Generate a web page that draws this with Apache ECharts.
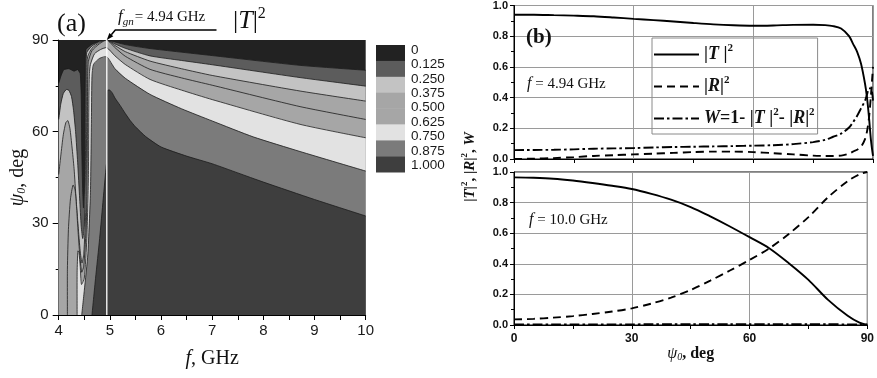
<!DOCTYPE html>
<html>
<head>
<meta charset="utf-8">
<script src="https://cdn.jsdelivr.net/npm/echarts@6.0.0/dist/echarts.min.js"></script>
<style>
html,body{margin:0;padding:0;background:#ffffff;}
#chart{width:877px;height:378px;}
</style>
</head>
<body>
<div id="chart"></div>
<script>
// ================= Panel (a): |T|^2 contour map =================
const fgn = 4.94;
const fRange = [4, 10];
const psiRange = [0, 90];
const levelLabels = ['0', '0.125', '0.250', '0.375', '0.500', '0.625', '0.750', '0.875', '1.000'];
const bandColors = ['#222222', '#5c5c5c', '#c3c3c3', '#a6a6a6', '#a6a6a6', '#e2e2e2', '#7b7b7b', '#3e3e3e'];

// superlevel regions [f (GHz), psi0 (deg)]: |T|^2 > level
const regionAll = [[4, 0], [4, 90], [10, 90], [10, 0]];
const region125 = [[4, 0], [4, 75.8], [4.05, 78.5], [4.1, 80.3], [4.2, 80.6], [4.3, 79.8], [4.37, 80.3], [4.42, 79], [4.44, 72], [4.45, 55], [4.47, 40], [4.485, 35], [4.5, 40], [4.51, 55], [4.515, 75], [4.52, 84], [4.535, 87], [4.65, 88.6], [4.8, 89.6], [4.94, 90], [5.3, 88.5], [5.785, 87.2], [7, 84.9], [8.717, 81.7], [10, 80.1], [10, 0]];
const region250 = [[4, 0], [4, 64], [4.04, 69], [4.09, 72.5], [4.15, 73.8], [4.2, 73.5], [4.25, 71.5], [4.29, 67], [4.33, 60], [4.37, 50], [4.41, 38], [4.44, 29], [4.47, 25], [4.5, 29], [4.52, 45], [4.53, 70], [4.535, 82], [4.55, 86], [4.65, 88], [4.8, 89.5], [4.94, 90], [5.1, 88.7], [5.3, 87.3], [5.785, 84.8], [6.4, 83.3], [7, 81.9], [8.717, 77.7], [10, 74.9], [10, 0]];
const region375 = [[4, 0], [4, 46], [4.04, 52], [4.09, 59], [4.14, 63], [4.18, 63.6], [4.22, 61], [4.26, 55], [4.3, 48], [4.34, 38], [4.38, 29], [4.42, 21], [4.455, 17], [4.49, 20], [4.53, 35], [4.545, 60], [4.55, 80], [4.565, 84.5], [4.65, 87.3], [4.8, 89.2], [4.94, 90], [5.1, 88.2], [5.3, 86.2], [5.785, 83.1], [6.4, 80.6], [7, 78.4], [8.717, 73.3], [10, 70.0], [10, 0]];
const region500 = [[4.17, 0], [4.17, 15], [4.19, 28], [4.23, 38], [4.28, 42.5], [4.32, 41], [4.35, 35], [4.38, 27], [4.41, 20], [4.45, 14], [4.49, 16], [4.54, 30], [4.56, 55], [4.565, 78], [4.58, 83], [4.65, 86.5], [4.8, 88.8], [4.94, 90], [5.1, 87.5], [5.3, 84.7], [5.785, 80.4], [6.4, 77.6], [7, 75.2], [8.717, 68.2], [10, 64.0], [10, 0]];
const region625 = [[4.36, 0], [4.36, 14], [4.375, 21], [4.395, 20.5], [4.42, 16], [4.445, 10], [4.5, 12], [4.55, 25], [4.58, 45], [4.59, 70], [4.6, 79], [4.62, 82], [4.7, 85.5], [4.82, 86.9], [4.94, 87.5], [5.1, 84.8], [5.3, 82], [5.785, 77.1], [6.4, 73.6], [7, 70.5], [8.717, 62.4], [10, 58.0], [10, 0]];
const region750 = [[4.45, 0], [4.5, 8], [4.57, 20], [4.62, 40], [4.64, 65], [4.65, 78], [4.68, 82], [4.8, 84], [4.94, 84.5], [5.1, 80.6], [5.3, 77.5], [5.785, 72.2], [6.4, 67.5], [7, 63.5], [7.8, 58.3], [8.717, 53.5], [10, 47.1], [10, 0]];
const region875 = [[4.65, 0], [4.72, 12], [4.8, 25], [4.87, 38], [4.93, 49], [4.94, 50], [4.94, 72.5], [4.96, 73.6], [5.0, 73.6], [5.05, 72.6], [5.1, 71], [5.2, 68.6], [5.3, 66], [5.4, 63.6], [5.5, 61.6], [5.7, 58.4], [6, 55], [6.5, 52], [7, 49.5], [7.5, 46.5], [8, 43.5], [9, 37.8], [10, 32.4], [10, 0]];
const contourRegions = [regionAll, region125, region250, region375, region500, region625, region750, region875];

// ================= Panel (b): angular dependences =================
const psiTop = [0, 5, 10, 15, 20, 25, 30, 35, 40, 45, 50, 55, 60, 65, 70, 75, 78, 80, 82, 84, 85, 86, 87, 88, 88.5, 89, 89.5, 90];
const T2top = [0.94, 0.94, 0.937, 0.934, 0.93, 0.922, 0.913, 0.905, 0.896, 0.886, 0.877, 0.871, 0.868, 0.870, 0.874, 0.875, 0.872, 0.866, 0.85, 0.8, 0.75, 0.7, 0.62, 0.49, 0.4, 0.27, 0.12, 0.02];
const R2top = [0.0, 0.002, 0.006, 0.012, 0.02, 0.025, 0.03, 0.035, 0.04, 0.045, 0.048, 0.048, 0.045, 0.038, 0.03, 0.022, 0.02, 0.02, 0.022, 0.035, 0.048, 0.06, 0.08, 0.13, 0.18, 0.27, 0.42, 0.6];
const Wtop = [0.058, 0.059, 0.06, 0.063, 0.067, 0.069, 0.071, 0.075, 0.078, 0.08, 0.082, 0.084, 0.087, 0.09, 0.097, 0.11, 0.125, 0.145, 0.165, 0.205, 0.24, 0.28, 0.33, 0.38, 0.42, 0.46, 0.46, 0.38];

const psiBot = [0, 5, 10, 15, 20, 25, 30, 35, 40, 45, 50, 55, 60, 65, 70, 75, 80, 85, 88, 90];
const T2bot = [0.965, 0.962, 0.956, 0.944, 0.928, 0.91, 0.889, 0.857, 0.819, 0.771, 0.71, 0.644, 0.574, 0.502, 0.404, 0.295, 0.164, 0.06, 0.015, 0.0];
const R2bot = [0.037, 0.04, 0.048, 0.058, 0.072, 0.088, 0.109, 0.14, 0.179, 0.229, 0.29, 0.356, 0.425, 0.5, 0.595, 0.705, 0.835, 0.94, 0.985, 1.0];
const Wbot = [0.004, 0.004, 0.004, 0.004, 0.004, 0.004, 0.004, 0.005, 0.005, 0.005, 0.005, 0.005, 0.005, 0.005, 0.005, 0.005, 0.005, 0.004, 0.004, 0.003];

const seriesNames = ['T2', 'R2', 'W'];
const legendText = {
  T2: '{n||}{i|T}{n| |}{sup|2}',
  R2: '{n||}{i|R}{n||}{sup|2}',
  W: '{i|W}{n|=1- |}{i|T}{n| |}{sup|2}{n|- |}{i|R}{n||}{sup|2}'
};

// ================= rendering =================
const SERIF = '"Liberation Serif", "Times New Roman", serif';
const SANS = '"Liberation Sans", Arial, sans-serif';
const chart = echarts.init(document.getElementById('chart'));

function pairs(xs, ys) { return xs.map((x, i) => [x, ys[i]]); }

function renderRegion(params, api) {
  const idx = api.value(2);
  const reg = contourRegions[idx];
  const pts = reg.map(p => api.coord(p));
  const children = [{ type: 'polygon', shape: { points: pts }, style: { fill: bandColors[idx], stroke: null } }];
  const onFrame = (a, b) => (a[0] === fRange[0] && b[0] === fRange[0]) || (a[0] === fRange[1] && b[0] === fRange[1]) ||
    (a[1] === psiRange[0] && b[1] === psiRange[0]) || (a[1] === psiRange[1] && b[1] === psiRange[1]);
  let seg = [];
  const lines = [];
  for (let k = 0; k < reg.length; k++) {
    const a = reg[k], b = reg[(k + 1) % reg.length];
    if (onFrame(a, b)) { if (seg.length > 1) lines.push(seg); seg = []; }
    else { if (!seg.length) seg.push(api.coord(a)); seg.push(api.coord(b)); }
  }
  if (seg.length > 1) lines.push(seg);
  lines.forEach(l => children.push({ type: 'polyline', shape: { points: l, smooth: 0.2 }, style: { stroke: '#1c1c1c', lineWidth: 0.8, fill: null } }));
  return { type: 'group', children };
}

const axisBlack = { lineStyle: { color: '#000', width: 1 } };
const boldTick = { fontFamily: SANS, fontWeight: 'bold', fontSize: 11, color: '#111' };
const curve = { symbol: 'none', showSymbol: false, smooth: 0.3, itemStyle: { color: '#000' } };
const dashT = 'solid', dashR = [8, 5], dashW = [10, 3, 2.5, 3];

const option = {
  animation: false,
  grid: [
    { left: 58.7, top: 40, width: 307, height: 275 },
    { left: 514, top: 5, width: 359, height: 154, show: true, borderColor: '#000', borderWidth: 1 },
    { left: 514, top: 172, width: 359, height: 153, show: true, borderColor: '#000', borderWidth: 1 }
  ],
  xAxis: [
    {
      gridIndex: 0, type: 'value', min: fRange[0], max: fRange[1], interval: 1,
      name: '{i|f}{n|, GHz}', nameLocation: 'middle', nameGap: 34,
      nameTextStyle: { rich: { i: { fontFamily: SERIF, fontStyle: 'italic', fontSize: 20, color: '#111' }, n: { fontFamily: SERIF, fontSize: 20, color: '#111' } } },
      axisLine: axisBlack, axisTick: { length: 5, lineStyle: { color: '#000' } },
      minorTick: { show: true, splitNumber: 2, length: 5, lineStyle: { color: '#000' } },
      axisLabel: { fontFamily: SANS, fontSize: 15, color: '#1a1a1a', margin: 8 },
      splitLine: { show: false }
    },
    {
      gridIndex: 1, type: 'value', min: 0, max: 90, interval: 30,
      axisLine: axisBlack, axisTick: { length: 4, lineStyle: { color: '#000' } },
      minorTick: { show: true, splitNumber: 2, length: 4, lineStyle: { color: '#000' } },
      axisLabel: { show: false },
      splitLine: { show: true, lineStyle: { color: '#9a9a9a', width: 1 } }
    },
    {
      gridIndex: 2, type: 'value', min: 0, max: 90, interval: 30,
      name: '{i|ψ}{sub|0}{n|, deg}', nameLocation: 'middle', nameGap: 21,
      nameTextStyle: { rich: {
        i: { fontFamily: SERIF, fontStyle: 'italic', fontSize: 16, color: '#111' },
        sub: { fontFamily: SERIF, fontStyle: 'italic', fontSize: 10, color: '#111', verticalAlign: 'bottom' },
        n: { fontFamily: SERIF, fontSize: 16, fontWeight: 'bold', color: '#111' } } },
      axisLine: axisBlack, axisTick: { length: 4, lineStyle: { color: '#000' } },
      minorTick: { show: true, splitNumber: 2, length: 4, lineStyle: { color: '#000' } },
      axisLabel: Object.assign({}, boldTick, { fontSize: 12, margin: 8 }),
      splitLine: { show: true, lineStyle: { color: '#9a9a9a', width: 1 } }
    }
  ],
  yAxis: [
    {
      gridIndex: 0, type: 'value', min: psiRange[0], max: psiRange[1], interval: 30,
      name: '{i|ψ}{sub|0}{n|, deg}', nameLocation: 'middle', nameGap: 31, nameRotate: 90,
      nameTextStyle: { rich: {
        i: { fontFamily: SERIF, fontStyle: 'italic', fontSize: 20, color: '#111' },
        sub: { fontFamily: SERIF, fontStyle: 'italic', fontSize: 12, color: '#111', verticalAlign: 'bottom' },
        n: { fontFamily: SERIF, fontSize: 20, color: '#111' } } },
      axisLine: axisBlack, axisTick: { length: 6, lineStyle: { color: '#000' } },
      minorTick: { show: true, splitNumber: 2, length: 3, lineStyle: { color: '#000' } },
      axisLabel: { fontFamily: SANS, fontSize: 15, color: '#1a1a1a', margin: 10 },
      splitLine: { show: false }
    },
    {
      gridIndex: 1, type: 'value', min: 0, max: 1, interval: 0.2,
      axisLine: axisBlack, axisTick: { length: 4, lineStyle: { color: '#000' } },
      minorTick: { show: true, splitNumber: 2, length: 3, lineStyle: { color: '#000' } },
      axisLabel: Object.assign({}, boldTick, { margin: 6, formatter: v => v.toFixed(1) }),
      splitLine: { show: true, lineStyle: { color: '#9a9a9a', width: 1 } }
    },
    {
      gridIndex: 2, type: 'value', min: 0, max: 1, interval: 0.2,
      axisLine: axisBlack, axisTick: { length: 4, lineStyle: { color: '#000' } },
      minorTick: { show: true, splitNumber: 2, length: 3, lineStyle: { color: '#000' } },
      axisLabel: Object.assign({}, boldTick, { margin: 6, formatter: v => v.toFixed(1) }),
      splitLine: { show: true, lineStyle: { color: '#9a9a9a', width: 1 } }
    }
  ],
  legend: {
    data: seriesNames, orient: 'vertical', left: 652, top: 38,
    padding: [5, 3, 4, 1], itemGap: 9, itemWidth: 45, itemHeight: 14,
    borderColor: '#8a8a8a', borderWidth: 1, backgroundColor: 'transparent',
    selectedMode: false,
    itemStyle: { opacity: 0 },
    formatter: n => legendText[n],
    textStyle: {
      fontFamily: SERIF, fontSize: 18, fontWeight: 'bold', color: '#111', lineHeight: 23,
      rich: {
        n: { fontFamily: SERIF, fontSize: 18, fontWeight: 'bold', color: '#111', lineHeight: 23 },
        i: { fontFamily: SERIF, fontSize: 18, fontWeight: 'bold', fontStyle: 'italic', color: '#111', lineHeight: 23 },
        sup: { fontFamily: SERIF, fontSize: 11, fontWeight: 'bold', color: '#111', verticalAlign: 'top', lineHeight: 23 }
      }
    }
  },
  series: [
    {
      type: 'custom', xAxisIndex: 0, yAxisIndex: 0, clip: true, z: 1, silent: true,
      data: contourRegions.map((r, i) => [r[0][0], r[0][1], i]),
      encode: { x: 0, y: 1 },
      renderItem: renderRegion
    },
    {
      type: 'line', xAxisIndex: 0, yAxisIndex: 0, z: 3, silent: true,
      data: [[fgn, psiRange[0]], [fgn, psiRange[1]]], symbol: 'none',
      lineStyle: { color: '#ffffff', width: 1.3 }
    },
    Object.assign({ name: 'T2', type: 'line', xAxisIndex: 1, yAxisIndex: 1, data: pairs(psiTop, T2top), lineStyle: { color: '#000', width: 1.9, type: dashT } }, curve),
    Object.assign({ name: 'R2', type: 'line', xAxisIndex: 1, yAxisIndex: 1, data: pairs(psiTop, R2top), lineStyle: { color: '#000', width: 1.9, type: dashR } }, curve),
    Object.assign({ name: 'W', type: 'line', xAxisIndex: 1, yAxisIndex: 1, data: pairs(psiTop, Wtop), lineStyle: { color: '#000', width: 1.9, type: dashW } }, curve),
    Object.assign({ name: 'T2', type: 'line', xAxisIndex: 2, yAxisIndex: 2, data: pairs(psiBot, T2bot), lineStyle: { color: '#000', width: 1.9, type: dashT } }, curve),
    Object.assign({ name: 'R2', type: 'line', xAxisIndex: 2, yAxisIndex: 2, data: pairs(psiBot, R2bot), lineStyle: { color: '#000', width: 1.9, type: dashR } }, curve),
    Object.assign({ name: 'W', type: 'line', xAxisIndex: 2, yAxisIndex: 2, data: pairs(psiBot, Wbot), lineStyle: { color: '#000', width: 1.9, type: dashW } }, curve)
  ]
};
chart.setOption(option);

// ----- annotations, colour key and panel texts -----
const apex = chart.convertToPixel({ gridIndex: 0 }, [fgn, psiRange[1]]);
const leadStart = [apex[0] + 8.5, apex[1] - 10];
const dx = apex[0] - leadStart[0], dy = apex[1] - leadStart[1];
const dl = Math.sqrt(dx * dx + dy * dy);
const ux = dx / dl, uy = dy / dl;
const bx = apex[0] - ux * 7, by = apex[1] - uy * 7;
const head = [[apex[0], apex[1]], [bx - uy * 2.6, by + ux * 2.6], [bx + uy * 2.6, by - ux * 2.6]];

const graphics = [];
// colour key
for (let i = 0; i < bandColors.length; i++) {
  graphics.push({ type: 'rect', shape: { x: 376, y: 45 + 15.9 * i, width: 29, height: 16.2 }, style: { fill: bandColors[i] }, silent: true });
}
levelLabels.forEach((t, j) => {
  graphics.push({ type: 'text', style: { text: t, x: 411, y: 50 + 14.4 * j, fill: '#1a1a1a', font: '13.5px ' + SANS, verticalAlign: 'middle' }, silent: true });
});
// f_gn annotation
graphics.push({ type: 'polyline', shape: { points: [[216.5, leadStart[1]], leadStart, [bx, by]] }, style: { stroke: '#000', lineWidth: 1.5, fill: null }, silent: true });
graphics.push({ type: 'polygon', shape: { points: head }, style: { fill: '#000' }, silent: true });
graphics.push({ type: 'text', style: {
  text: '{i|f}{sub|gn}{n|= 4.94 GHz}', x: 118, y: 17, verticalAlign: 'middle',
  rich: {
    i: { fontFamily: SERIF, fontStyle: 'italic', fontSize: 17, fill: '#111', lineHeight: 22 },
    sub: { fontFamily: SERIF, fontStyle: 'italic', fontSize: 11, fill: '#111', verticalAlign: 'bottom', lineHeight: 22, padding: [8, 1, 0, 0] },
    n: { fontFamily: SERIF, fontSize: 15, fill: '#111', lineHeight: 22 }
  } }, silent: true });
graphics.push({ type: 'text', style: {
  text: '{n||}{i|T}{n||}{sup|2}', x: 233, y: 21, verticalAlign: 'middle',
  rich: {
    i: { fontFamily: SERIF, fontStyle: 'italic', fontSize: 26, fill: '#111', lineHeight: 30 },
    n: { fontFamily: SERIF, fontSize: 26, fill: '#111', lineHeight: 30 },
    sup: { fontFamily: SERIF, fontSize: 16, fill: '#111', verticalAlign: 'top', lineHeight: 30 }
  } }, silent: true });
graphics.push({ type: 'text', style: { text: '(a)', x: 57, y: 24, verticalAlign: 'middle', font: '26px ' + SERIF, fill: '#111' }, silent: true });
// panel (b)
graphics.push({ type: 'text', style: { text: '(b)', x: 526, y: 38, verticalAlign: 'middle', font: 'bold 21px ' + SERIF, fill: '#111' }, silent: true });
const fLabelRich = {
  i: { fontFamily: SERIF, fontStyle: 'italic', fontSize: 16, fill: '#111' },
  n: { fontFamily: SERIF, fontSize: 15, fill: '#111' }
};
graphics.push({ type: 'text', style: { text: '{i|f}{n| = 4.94 GHz}', x: 527, y: 84, verticalAlign: 'middle', rich: fLabelRich }, silent: true });
graphics.push({ type: 'text', style: { text: '{i|f}{n| = 10.0 GHz}', x: 529, y: 220, verticalAlign: 'middle', rich: fLabelRich }, silent: true });
graphics.push({ type: 'text', x: 470, y: 167, rotation: Math.PI / 2, style: {
  text: '{n||}{i|T}{n||}{sup|2}{n|, |}{i|R}{n||}{sup|2}{n|, }{i|W}', x: 0, y: 0, align: 'center', verticalAlign: 'middle',
  rich: {
    n: { fontFamily: SERIF, fontWeight: 'bold', fontSize: 15, fill: '#111', lineHeight: 19 },
    i: { fontFamily: SERIF, fontWeight: 'bold', fontStyle: 'italic', fontSize: 15, fill: '#111', lineHeight: 19 },
    sup: { fontFamily: SERIF, fontWeight: 'bold', fontSize: 9, fill: '#111', verticalAlign: 'top', lineHeight: 19 }
  } }, silent: true });

chart.setOption({ graphic: graphics });
</script>
</body>
</html>
